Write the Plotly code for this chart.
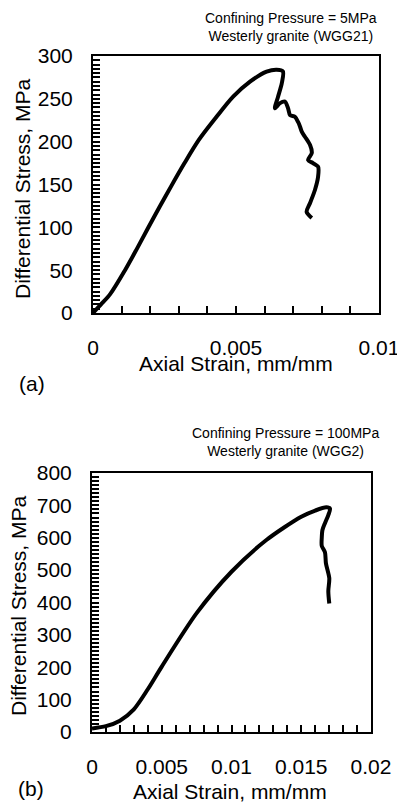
import plotly.graph_objects as go

# Panel (a): Confining pressure 5 MPa, WGG21
strain_a = [0.0, 0.00028, 0.0006, 0.00112, 0.00152, 0.00192, 0.00233, 0.00275, 0.0032, 0.0037,
            0.00432, 0.0049, 0.00549, 0.00607, 0.00642, 0.00664, 0.0066, 0.00647, 0.00636,
            0.00654, 0.00671, 0.00682, 0.00689, 0.00706, 0.00717, 0.00724, 0.0073, 0.00741,
            0.00759, 0.00765, 0.00752, 0.00769, 0.00787, 0.00787, 0.00776, 0.00759, 0.00747,
            0.00765]
stress_a = [0, 10, 22, 50, 74, 99, 124, 149, 175, 202,
            229, 252.5, 270, 281.7, 284, 282, 268, 252.5, 239,
            245, 246.7, 239, 231, 229, 223, 217.5, 211.6, 205.8,
            196, 186.8, 178.6, 175, 170.8, 159, 143.6, 128.4, 118,
            111]

# Panel (b): Confining pressure 100 MPa, WGG2
strain_b = [0.0, 0.001, 0.002, 0.003, 0.004, 0.005, 0.0075, 0.01, 0.0125, 0.015,
            0.016, 0.0168, 0.01706, 0.01694, 0.0167, 0.01652, 0.01647,
            0.01647, 0.0167, 0.01677, 0.01701, 0.01694, 0.01701]
stress_b = [11, 18, 35, 70, 132, 202, 367, 495, 593, 665,
            684, 694, 690, 670, 645, 624, 600,
            575, 555, 521, 475, 435, 397]

# x tick positions (every 0.001) and labels
xticks_a = [i / 1000 for i in range(0, 11)]
xlabels_a = ["0", "", "", "", "", "0.005", "", "", "", "", "0.01"]
xticks_b = [i / 1000 for i in range(0, 21)]
xlabels_b = ["0", "", "", "", "", "0.005", "", "", "", "", "0.01",
             "", "", "", "", "0.015", "", "", "", "", "0.02"]

W, H = 397, 805

def px(x):
    return x / W

def py(y):
    return 1 - y / H

fig = go.Figure()
fig.add_trace(go.Scatter(x=strain_a, y=stress_a, mode="lines",
                         line=dict(color="black", width=4, shape="spline", smoothing=0.8),
                         xaxis="x", yaxis="y", showlegend=False))
fig.add_trace(go.Scatter(x=strain_b, y=stress_b, mode="lines",
                         line=dict(color="black", width=4, shape="spline", smoothing=0.8),
                         xaxis="x2", yaxis="y2", showlegend=False))

font_tick = dict(family="Liberation Sans, Arial, sans-serif", size=21, color="black")

def xaxis(dom, rng, vals, labels, anchor):
    return dict(domain=dom, range=rng, tickmode="array", tickvals=vals, ticktext=labels,
                anchor=anchor, automargin=False, ticklabeloverflow="allow",
                showline=True, linecolor="black", linewidth=2, mirror=True,
                ticks="inside", ticklen=7, tickwidth=2, tickcolor="black",
                showgrid=False, zeroline=False, tickfont=font_tick,
                ticklabelstandoff=15)

def yaxis(dom, rng, dtick, minor, anchor):
    return dict(domain=dom, range=rng, dtick=dtick, tick0=0, anchor=anchor,
                automargin=False, ticklabeloverflow="allow",
                showline=True, linecolor="black", linewidth=2, mirror=True,
                ticks="inside", ticklen=7, tickwidth=2, tickcolor="black",
                minor=dict(dtick=minor, tick0=0, ticks="inside", ticklen=7, tickwidth=1.5,
                           tickcolor="black", showgrid=False),
                showgrid=False, zeroline=False, tickfont=font_tick,
                ticklabelstandoff=14)

fig.update_layout(
    width=W, height=H, margin=dict(l=0, r=0, t=0, b=0, autoexpand=False),
    paper_bgcolor="white", plot_bgcolor="white",
    xaxis=xaxis([px(93), px(379)], [0, 0.01], xticks_a, xlabels_a, "y"),
    yaxis=yaxis([py(313), py(56)], [0, 300], 50, 5, "x"),
    xaxis2=xaxis([px(92), px(371)], [0, 0.02], xticks_b, xlabels_b, "y2"),
    yaxis2=yaxis([py(732), py(473)], [0, 800], 100, 12.5, "x2"),
)

ann_font = dict(family="Liberation Sans, Arial, sans-serif", size=14, color="black")
title_font = dict(family="Liberation Sans, Arial, sans-serif", size=21, color="black")

annotations = [
    dict(text="Confining Pressure = 5MPa<br>Westerly granite (WGG21)", x=px(291), y=py(27),
         font=ann_font),
    dict(text="Confining Pressure = 100MPa<br>Westerly granite (WGG2)", x=px(285), y=py(442),
         font=ann_font),
    dict(text="Differential Stress, MPa", x=px(23), y=py(189), textangle=-90, font=title_font),
    dict(text="Axial Strain, mm/mm", x=px(236), y=py(363), font=title_font),
    dict(text="(a)", x=px(32), y=py(383), font=title_font),
    dict(text="Differential Stress, MPa", x=px(18), y=py(606), textangle=-90, font=title_font),
    dict(text="Axial Strain, mm/mm", x=px(230), y=py(791), font=title_font),
    dict(text="(b)", x=px(31), y=py(788), font=title_font),
]
for a in annotations:
    a.update(xref="paper", yref="paper", showarrow=False, xanchor="center", yanchor="middle")
fig.update_layout(annotations=annotations)

fig.write_html("out.html")
